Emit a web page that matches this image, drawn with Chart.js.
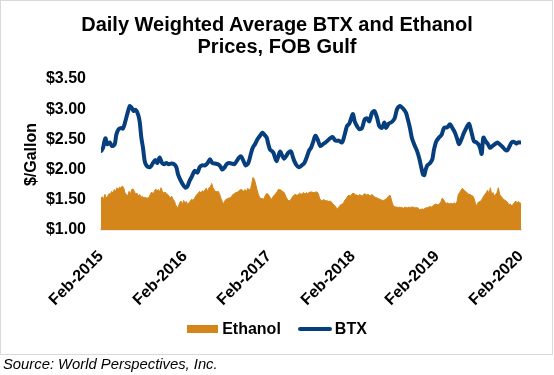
<!DOCTYPE html>
<html><head><meta charset="utf-8">
<script src="https://cdn.jsdelivr.net/npm/chart.js@4"></script>
<style>
html,body{margin:0;padding:0;background:#fff;}
body{width:554px;height:375px;position:relative;overflow:hidden;font-family:"Liberation Sans",Arial,sans-serif;color:#000;}
#frame{position:absolute;left:0;top:0;width:551px;height:353px;border:1px solid #d9d9d9;}
#title{position:absolute;left:0;top:13px;width:554px;text-align:center;font-weight:bold;font-size:20px;line-height:22px;}
#c{position:absolute;left:0;top:0;}
#legend{position:absolute;left:0;top:319px;width:554px;height:20px;display:flex;justify-content:center;align-items:center;font-weight:bold;font-size:16px;}
#legend .sw{display:inline-block;width:31px;height:8px;background:#D4861A;margin-right:4px;}
#legend .ln{display:inline-block;width:34px;height:4px;border-radius:2px;background:#073F7E;margin-left:17px;margin-right:3px;}
#source{position:absolute;left:3px;top:356px;font-style:italic;font-size:14.8px;line-height:17px;}
</style></head>
<body>
<div id="frame"></div>
<canvas id="c" width="554" height="375"></canvas>
<div id="title">Daily Weighted Average BTX and Ethanol<br>Prices, FOB Gulf</div>
<div id="legend"><span class="sw"></span><span>Ethanol</span><span class="ln"></span><span>BTX</span></div>
<div id="source">Source: World Perspectives, Inc.</div>
<script>
// x tick labels (one per year, starting Feb-2015)
const xTickLabels = ['Feb-2015','Feb-2016','Feb-2017','Feb-2018','Feb-2019','Feb-2020'];
const yTicks = [1.00, 1.50, 2.00, 2.50, 3.00, 3.50];

// BTX: dates in years since Feb-2015, prices in $/gallon
const btxDates = [
0.004,0.024,0.052,0.075,0.103,0.131,0.163,0.183,0.210,0.242,0.262,0.290,0.313,0.341,0.361,0.389,0.413,0.440,0.460,0.480,
0.500,0.520,0.540,0.567,0.591,0.619,0.647,0.671,0.698,0.726,0.750,0.778,0.806,0.837,0.869,0.897,0.917,0.948,0.976,1.004,
1.028,1.056,1.083,1.115,1.147,1.175,1.202,1.238,1.270,1.298,1.325,1.357,1.389,1.417,1.444,1.468,1.496,1.524,1.556,1.587,
1.615,1.643,1.667,1.694,1.722,1.754,1.782,1.806,1.833,1.861,1.893,1.921,1.944,1.972,1.992,2.012,2.032,2.052,2.071,2.091,
2.111,2.131,2.151,2.179,2.202,2.230,2.262,2.282,2.302,2.329,2.357,2.389,2.421,2.448,2.476,2.500,2.524,2.552,2.579,2.611,
2.651,2.690,2.730,2.758,2.790,2.829,2.869,2.897,2.929,2.956,2.980,3.000,3.020,3.048,3.075,3.107,3.139,3.167,3.194,3.226,
3.254,3.286,3.313,3.345,3.373,3.393,3.425,3.464,3.496,3.524,3.552,3.575,3.603,3.631,3.655,3.679,3.702,3.734,3.762,3.790,
3.815,3.833,3.849,3.865,3.885,3.913,3.944,3.964,3.992,4.024,4.056,4.083,4.123,4.155,4.183,4.214,4.242,4.262,4.290,4.321,
4.349,4.381,4.401,4.421,4.440,4.468,4.492,4.512,4.532,4.552,4.579,4.607,4.631,4.659,4.690,4.718,4.746,4.778,4.810,4.837,
4.865,4.889,4.917,4.944,4.968,4.992];
const btxValues = [
2.31,2.36,2.52,2.42,2.45,2.39,2.42,2.58,2.67,2.69,2.68,2.80,2.92,3.05,3.03,2.97,2.99,2.92,2.80,2.53,
2.36,2.14,2.07,2.04,2.05,2.11,2.16,2.11,2.20,2.11,2.09,2.11,2.09,2.10,2.09,2.04,1.92,1.82,1.75,1.70,
1.72,1.82,1.89,1.98,1.95,2.04,2.07,2.07,2.11,2.17,2.11,2.10,2.09,2.06,2.00,2.03,2.09,2.11,2.10,2.09,
2.14,2.20,2.22,2.15,2.07,2.11,2.25,2.36,2.42,2.50,2.56,2.61,2.58,2.53,2.42,2.33,2.31,2.28,2.20,2.14,
2.22,2.30,2.25,2.18,2.22,2.28,2.30,2.22,2.14,2.07,2.04,2.07,2.11,2.20,2.31,2.36,2.45,2.56,2.50,2.39,
2.43,2.47,2.52,2.54,2.48,2.48,2.45,2.56,2.72,2.76,2.86,2.92,2.80,2.72,2.67,2.69,2.83,2.85,2.80,2.94,
2.97,2.86,2.72,2.69,2.78,2.69,2.76,2.79,2.85,3.00,3.05,3.04,3.00,2.94,2.82,2.68,2.52,2.40,2.31,2.18,
2.02,1.92,1.91,2.00,2.07,2.10,2.17,2.33,2.47,2.53,2.58,2.69,2.70,2.75,2.69,2.61,2.50,2.42,2.50,2.61,
2.69,2.76,2.67,2.56,2.47,2.45,2.42,2.36,2.26,2.53,2.47,2.42,2.36,2.39,2.42,2.45,2.42,2.38,2.33,2.32,
2.39,2.45,2.46,2.43,2.45,2.45];

// Ethanol: evenly sampled, 63 samples per year from Feb-2015, $/gallon
const ethSamplesPerYear = 63;
const ethanolValues = [
1.53,1.55,1.51,1.59,1.53,1.56,1.60,1.59,1.64,1.61,
1.67,1.64,1.70,1.67,1.71,1.69,1.73,1.70,1.61,1.59,
1.56,1.64,1.59,1.67,1.68,1.64,1.59,1.61,1.56,1.59,
1.54,1.56,1.53,1.54,1.53,1.53,1.54,1.59,1.63,1.59,
1.64,1.68,1.64,1.67,1.63,1.70,1.64,1.61,1.63,1.60,
1.59,1.56,1.53,1.56,1.51,1.48,1.42,1.37,1.39,1.45,
1.48,1.42,1.49,1.45,1.47,1.42,1.45,1.48,1.51,1.49,
1.52,1.56,1.59,1.61,1.64,1.61,1.65,1.63,1.67,1.69,
1.64,1.70,1.71,1.77,1.70,1.66,1.64,1.63,1.64,1.59,
1.52,1.47,1.43,1.49,1.51,1.52,1.53,1.53,1.56,1.59,
1.60,1.62,1.62,1.64,1.66,1.67,1.66,1.64,1.67,1.63,
1.69,1.67,1.66,1.76,1.87,1.84,1.76,1.67,1.59,1.54,
1.52,1.52,1.51,1.56,1.60,1.60,1.57,1.53,1.51,1.55,
1.58,1.60,1.63,1.67,1.67,1.66,1.64,1.63,1.59,1.54,
1.50,1.48,1.49,1.53,1.56,1.58,1.59,1.57,1.59,1.61,
1.59,1.60,1.62,1.59,1.62,1.60,1.62,1.63,1.63,1.62,
1.62,1.63,1.63,1.60,1.52,1.49,1.48,1.51,1.48,1.49,
1.48,1.47,1.48,1.46,1.43,1.41,1.39,1.34,1.37,1.40,
1.42,1.43,1.45,1.50,1.52,1.56,1.58,1.56,1.59,1.61,
1.60,1.58,1.58,1.56,1.59,1.57,1.56,1.59,1.60,1.58,
1.59,1.58,1.56,1.59,1.57,1.55,1.54,1.53,1.52,1.51,
1.50,1.49,1.49,1.50,1.52,1.54,1.57,1.57,1.48,1.41,
1.39,1.38,1.38,1.37,1.38,1.37,1.37,1.36,1.38,1.37,
1.37,1.38,1.37,1.38,1.38,1.37,1.37,1.37,1.36,1.34,
1.34,1.35,1.34,1.36,1.37,1.37,1.38,1.39,1.38,1.40,
1.42,1.43,1.42,1.42,1.44,1.47,1.53,1.50,1.46,1.44,
1.45,1.43,1.44,1.44,1.43,1.45,1.43,1.47,1.59,1.62,
1.66,1.69,1.67,1.64,1.63,1.60,1.59,1.59,1.57,1.56,
1.51,1.42,1.41,1.46,1.47,1.48,1.52,1.56,1.59,1.62,
1.66,1.59,1.70,1.59,1.62,1.56,1.59,1.62,1.70,1.59,
1.56,1.53,1.51,1.49,1.48,1.45,1.42,1.43,1.40,1.42,
1.45,1.48,1.45,1.47,1.45,1.44];

const btxData = btxDates.map((d, i) => ({x: d, y: btxValues[i]}));
const ethanolData = ethanolValues.map((v, i) => ({x: i / ethSamplesPerYear, y: v}));

Chart.defaults.font.family = "'Liberation Sans', Arial, sans-serif";
Chart.defaults.color = '#000';

new Chart(document.getElementById('c'), {
  type: 'line',
  data: {
    datasets: [
      {label: 'BTX', data: btxData, order: 0, borderColor: '#073F7E', borderWidth: 4,
       pointRadius: 0, fill: false, tension: 0.3, borderCapStyle: 'round', borderJoinStyle: 'round'},
      {label: 'Ethanol', data: ethanolData, order: 1, borderColor: '#D4861A', backgroundColor: '#D4861A',
       borderWidth: 1, pointRadius: 0, fill: 'start', tension: 0}
    ]
  },
  options: {
    responsive: false,
    animation: false,
    events: [],
    layout: {padding: {left: 0, right: 33, top: 79, bottom: 0}},
    plugins: {legend: {display: false}, title: {display: false}, tooltip: {enabled: false}},
    scales: {
      x: {
        type: 'linear', min: 0, max: xTickLabels.length - 1,
        grid: {display: false, drawTicks: false},
        border: {display: true, color: '#d9d9d9', width: 1.5},
        ticks: {stepSize: 1, autoSkip: false, maxRotation: 45, minRotation: 45, padding: 17,
                font: {size: 16, weight: 'bold'},
                callback: (v) => xTickLabels[Math.round(v)]},
        afterFit: (s) => { s.height = 145; }
      },
      y: {
        min: yTicks[0], max: yTicks[yTicks.length - 1],
        grid: {display: false, drawTicks: false},
        border: {display: false},
        ticks: {stepSize: 0.5, padding: 15, font: {size: 16, weight: 'bold'},
                callback: (v) => '$' + Number(v).toFixed(2)},
        title: {display: true, text: '$/Gallon', font: {size: 16, weight: 'bold'}, padding: {top: 22, bottom: 0}},
        afterFit: (s) => { s.width = 101; }
      }
    }
  }
});
</script>
</body></html>
